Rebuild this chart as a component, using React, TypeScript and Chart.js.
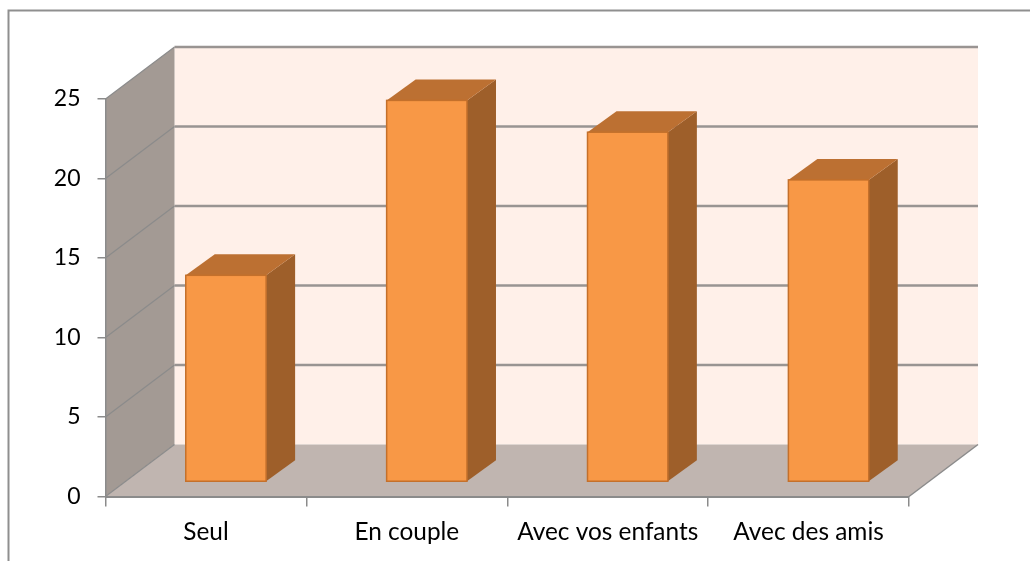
import React, { useEffect, useRef } from "react";
import { Chart, registerables } from "chart.js";

Chart.register(...registerables);

const categories = ["Seul", "En couple", "Avec vos enfants", "Avec des amis"];
const values = [13, 24, 22, 19];
const yTicks = [0, 5, 10, 15, 20, 25];

const FONT = "Lato, 'Noto Sans', sans-serif";
const AXIS = "#8b8b8b";
const WALL_DX = 69;
const WALL_DY = -52;
const BAR_DX = 20;
const BAR_DY = -14.5;
const DEPTH_DX = 29;
const DEPTH_DY = -21;

const poly = (ctx: CanvasRenderingContext2D, pts: number[][], fill: string) => {
  ctx.beginPath();
  pts.forEach(([x, y], i) => (i ? ctx.lineTo(x, y) : ctx.moveTo(x, y)));
  ctx.closePath();
  ctx.fillStyle = fill;
  ctx.fill();
};

const walls = {
  id: "walls",
  beforeDraw(chart: any) {
    const { ctx, chartArea: a, scales } = chart;
    const { left: l, right: r, top: t, bottom: b } = a;
    ctx.save();
    // outer frame
    ctx.strokeStyle = "#8f8f8f";
    ctx.lineWidth = 2;
    ctx.beginPath();
    ctx.moveTo(8.5, 561);
    ctx.lineTo(8.5, 10.5);
    ctx.lineTo(1030, 10.5);
    ctx.stroke();
    // walls
    poly(ctx, [[l + WALL_DX, t + WALL_DY], [r + WALL_DX, t + WALL_DY], [r + WALL_DX, b + WALL_DY], [l + WALL_DX, b + WALL_DY]], "#fff0e9");
    poly(ctx, [[l, t], [l + WALL_DX, t + WALL_DY], [l + WALL_DX, b + WALL_DY], [l, b]], "#a39a94");
    poly(ctx, [[l, b], [l + WALL_DX, b + WALL_DY], [r + WALL_DX, b + WALL_DY], [r, b]], "#c0b5b0");
    // gridlines
    yTicks.forEach((v) => {
      const y = scales.y.getPixelForValue(v);
      ctx.strokeStyle = AXIS;
      ctx.lineWidth = 1.2;
      ctx.beginPath();
      ctx.moveTo(l, y);
      ctx.lineTo(l + WALL_DX, y + WALL_DY);
      ctx.stroke();
      if (v > 0) {
        ctx.lineWidth = 2.4;
        ctx.strokeStyle = "#999492";
        ctx.beginPath();
        ctx.moveTo(l + WALL_DX, y + WALL_DY);
        ctx.lineTo(r + WALL_DX, y + WALL_DY);
        ctx.stroke();
      }
    });
    // right floor edge
    ctx.strokeStyle = AXIS;
    ctx.lineWidth = 1.5;
    ctx.beginPath();
    ctx.moveTo(r, b);
    ctx.lineTo(r + WALL_DX, b + WALL_DY);
    ctx.stroke();
    ctx.restore();
  },
  beforeDatasetsDraw(chart: any) {
    chart.ctx.save();
    chart.ctx.translate(BAR_DX, BAR_DY);
  },
  afterDatasetsDraw(chart: any) {
    const { ctx } = chart;
    chart.getDatasetMeta(0).data.forEach((bar: any) => {
      const x1 = bar.x - bar.width / 2;
      const x2 = bar.x + bar.width / 2;
      const top = bar.y;
      const base = bar.base;
      poly(ctx, [[x2, top], [x2 + DEPTH_DX, top + DEPTH_DY], [x2 + DEPTH_DX, base + DEPTH_DY], [x2, base]], "#9e5f2a");
      poly(ctx, [[x1, top], [x1 + DEPTH_DX, top + DEPTH_DY], [x2 + DEPTH_DX, top + DEPTH_DY], [x2, top]], "#bc7032");
      ctx.strokeStyle = "#c4702b";
      ctx.lineWidth = 1.5;
      ctx.strokeRect(x1, top, x2 - x1, base - top);
    });
    ctx.restore();
  },
};

export default function App() {
  const ref = useRef<HTMLCanvasElement>(null);
  useEffect(() => {
    const chart = new Chart(ref.current!, {
      type: "bar",
      data: {
        labels: categories,
        datasets: [
          {
            data: values,
            backgroundColor: "#f89846",
            borderWidth: 0,
            barPercentage: 0.4,
            categoryPercentage: 1,
            clip: false,
          } as any,
        ],
      },
      options: {
        responsive: false,
        animation: false,
        events: [],
        layout: { padding: { left: 0, top: 99, right: 121, bottom: 0 } },
        plugins: { legend: { display: false }, tooltip: { enabled: false } },
        scales: {
          x: {
            afterFit: (s: any) => {
              s.height = 64.5;
            },
            grid: { drawOnChartArea: false, tickLength: 10, color: AXIS, lineWidth: 1.5 },
            border: { color: AXIS, width: 2 },
            ticks: { color: "#000", font: { family: FONT, size: 24.4 }, padding: 11, maxRotation: 0, autoSkip: false },
          },
          y: {
            min: 0,
            max: 25,
            afterFit: (s: any) => {
              s.width = 105.5;
            },
            afterBuildTicks: (s: any) => {
              s.ticks = yTicks.map((value) => ({ value }));
            },
            grid: { drawOnChartArea: false, tickLength: 8, color: AXIS, lineWidth: 1.5 },
            border: { color: AXIS, width: 1.5 },
            ticks: { color: "#000", font: { family: FONT, size: 23 }, padding: 17 },
          },
        },
      },
      plugins: [walls],
    } as any);
    return () => chart.destroy();
  }, []);
  return (
    <div style={{ position: "absolute", left: 0, top: 0, width: 1030, height: 561 }}>
      <canvas ref={ref} width={1030} height={561} style={{ display: "block" }} />
    </div>
  );
}
